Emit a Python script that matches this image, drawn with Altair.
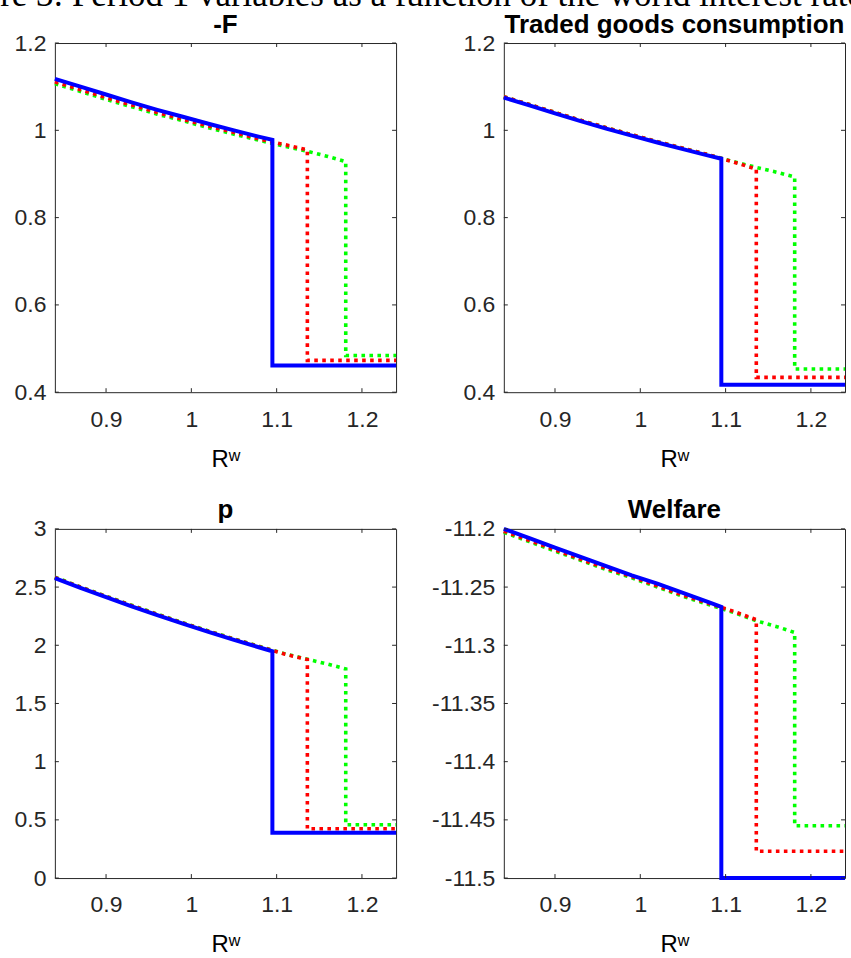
import altair as alt
import pandas as pd

# ---------------- data ----------------
CAPTION = "Figure 3: Period 1 variables as a function of the world interest rate"
TITLES = ["-F", "Traded goods consumption", "p", "Welfare"]
X_TITLE = "Rʷ"
X_DOMAIN = [0.84, 1.24]
X_TICKS = [0.9, 1.0, 1.1, 1.2]

X_BLUE = [0.84, 0.87, 0.90, 0.93, 0.96, 0.99, 1.02, 1.05, 1.08, 1.095, 1.095, 1.24]
X_RED = [0.84, 0.87, 0.90, 0.93, 0.96, 0.99, 1.02, 1.05, 1.08, 1.11, 1.136, 1.136, 1.24]
X_GREEN = [0.84, 0.87, 0.90, 0.93, 0.96, 0.99, 1.02, 1.05, 1.08, 1.11, 1.136, 1.16, 1.181, 1.181, 1.24]

# -F
F_BLUE = [1.118, 1.100, 1.082, 1.064, 1.047, 1.031, 1.015, 1.000, 0.985, 0.978, 0.461, 0.461]
F_RED = [1.111, 1.093, 1.075, 1.058, 1.041, 1.025, 1.010, 0.995, 0.980, 0.967, 0.955, 0.473, 0.473]
F_GREEN = [1.107, 1.089, 1.071, 1.054, 1.037, 1.022, 1.006, 0.991, 0.977, 0.963, 0.952, 0.940, 0.928, 0.484, 0.484]
F_DOMAIN = [0.4, 1.2]
F_TICKS = [0.4, 0.6, 0.8, 1.0, 1.2]

# Traded goods consumption
T_BLUE = [1.075, 1.057, 1.039, 1.021, 1.004, 0.988, 0.972, 0.957, 0.942, 0.935, 0.417, 0.417]
T_RED = [1.077, 1.059, 1.041, 1.023, 1.006, 0.990, 0.974, 0.959, 0.944, 0.927, 0.911, 0.434, 0.434]
T_GREEN = [1.077, 1.059, 1.041, 1.023, 1.006, 0.990, 0.974, 0.959, 0.944, 0.928, 0.915, 0.904, 0.893, 0.453, 0.453]
T_DOMAIN = [0.4, 1.2]
T_TICKS = [0.4, 0.6, 0.8, 1.0, 1.2]

# p
P_BLUE = [2.576, 2.493, 2.413, 2.335, 2.259, 2.186, 2.115, 2.047, 1.981, 1.949, 0.389, 0.389]
P_RED = [2.582, 2.499, 2.419, 2.341, 2.265, 2.191, 2.120, 2.052, 1.987, 1.923, 1.877, 0.423, 0.423]
P_GREEN = [2.585, 2.502, 2.422, 2.344, 2.268, 2.194, 2.123, 2.055, 1.990, 1.926, 1.880, 1.838, 1.797, 0.458, 0.458]
P_DOMAIN = [0, 3]
P_TICKS = [0, 0.5, 1, 1.5, 2, 2.5, 3]

# Welfare
W_BLUE = [-11.200, -11.208, -11.216, -11.224, -11.232, -11.240, -11.247, -11.255, -11.263, -11.267, -11.5, -11.5]
W_RED = [-11.202, -11.210, -11.218, -11.226, -11.234, -11.241, -11.249, -11.257, -11.264, -11.271, -11.278, -11.477, -11.477]
W_GREEN = [-11.203, -11.211, -11.219, -11.227, -11.235, -11.242, -11.250, -11.258, -11.265, -11.272, -11.279, -11.284, -11.289, -11.455, -11.455]
W_DOMAIN = [-11.5, -11.2]
W_TICKS = [-11.5, -11.45, -11.4, -11.35, -11.3, -11.25, -11.2]

# ---------------- styling ----------------
W, H = 342, 350
GRAY = "#262626"
SANS = "Liberation Sans"
SERIF = "Liberation Serif"
TICK_LEN = 4


def series_df(xs, ys):
    return pd.DataFrame({"x": xs, "y": ys, "i": list(range(len(xs)))})


def panel(title, blue, red, green, ydomain, yticks, caption=False):
    xs = alt.Scale(domain=X_DOMAIN, nice=False, zero=False)
    ys = alt.Scale(domain=ydomain, nice=False, zero=False)
    x_axis = alt.Axis(
        values=X_TICKS, labelExpr="'' + datum.value", ticks=False, domain=False,
        grid=False, labelFont=SANS, labelFontSize=23, labelColor=GRAY,
        labelPadding=16, labelFlush=False, labelOverlap=False,
        title=X_TITLE, titleFont=SANS, titleFontSize=24, titleFontWeight="normal",
        titleColor="#000000", titleY=74, titleBaseline="alphabetic",
    )
    y_axis = alt.Axis(
        values=yticks, labelExpr="'' + datum.value", ticks=False, domain=False,
        grid=False, labelFont=SANS, labelFontSize=23, labelColor=GRAY,
        labelPadding=9, labelFlush=False, labelOverlap=False, title=None,
    )

    def line(xv, yv, color, width, dash=None):
        kw = dict(color=color, strokeWidth=width, strokeJoin="miter")
        if dash is not None:
            kw["strokeDash"] = dash
        return alt.Chart(series_df(xv, yv)).mark_line(**kw).encode(
            x=alt.X("x:Q", scale=xs, axis=x_axis),
            y=alt.Y("y:Q", scale=ys, axis=y_axis),
            order=alt.Order("i:Q"),
        )

    xt = pd.DataFrame({"x": X_TICKS})
    yt = pd.DataFrame({"y": yticks})
    rule = dict(color=GRAY, strokeWidth=1)
    t_bottom = alt.Chart(xt).mark_rule(**rule).encode(
        x=alt.X("x:Q", scale=xs, axis=x_axis), y=alt.value(H), y2=alt.value(H - TICK_LEN))
    t_top = alt.Chart(xt).mark_rule(**rule).encode(
        x=alt.X("x:Q", scale=xs, axis=x_axis), y=alt.value(0), y2=alt.value(TICK_LEN))
    t_left = alt.Chart(yt).mark_rule(**rule).encode(
        y=alt.Y("y:Q", scale=ys, axis=y_axis), x=alt.value(0), x2=alt.value(TICK_LEN))
    t_right = alt.Chart(yt).mark_rule(**rule).encode(
        y=alt.Y("y:Q", scale=ys, axis=y_axis), x=alt.value(W), x2=alt.value(W - TICK_LEN))

    g = line(X_GREEN, green, "#00ff00", 3.6, [3.6, 4.4])
    r = line(X_RED, red, "#ff0000", 3.6, [3.6, 4.4])
    b = line(X_BLUE, blue, "#0000ff", 4)

    ttl = alt.Chart(pd.DataFrame({"t": [title]})).mark_text(
        font=SANS, fontSize=26, fontWeight="bold", color="#000000",
        align="center", baseline="alphabetic",
    ).encode(text="t:N", x=alt.value(W / 2), y=alt.value(-10.5))

    layers = [g, r, b, t_top, t_bottom, t_left, t_right, ttl]
    if caption:
        cap = alt.Chart(pd.DataFrame({"c": [CAPTION]})).mark_text(
            font=SERIF, fontSize=35, color="#000000", align="left", baseline="alphabetic",
        ).encode(text="c:N", x=alt.value(-119), y=alt.value(-37.5))
        layers.append(cap)
    return alt.layer(*layers).properties(width=W, height=H)


p1 = panel(TITLES[0], F_BLUE, F_RED, F_GREEN, F_DOMAIN, F_TICKS, caption=True)
p2 = panel(TITLES[1], T_BLUE, T_RED, T_GREEN, T_DOMAIN, T_TICKS)
p3 = panel(TITLES[2], P_BLUE, P_RED, P_GREEN, P_DOMAIN, P_TICKS)
p4 = panel(TITLES[3], W_BLUE, W_RED, W_GREEN, W_DOMAIN, W_TICKS)

chart = alt.concat(
    p1, p2, p3, p4, columns=2, spacing={"row": 137, "column": 108}, bounds="flush"
).properties(
    padding={"left": -65, "top": -24, "right": -13, "bottom": -2},
    background="white",
).configure_view(stroke=GRAY, strokeWidth=1)

chart.save("out.html", embed_options={"renderer": "svg", "actions": False})
